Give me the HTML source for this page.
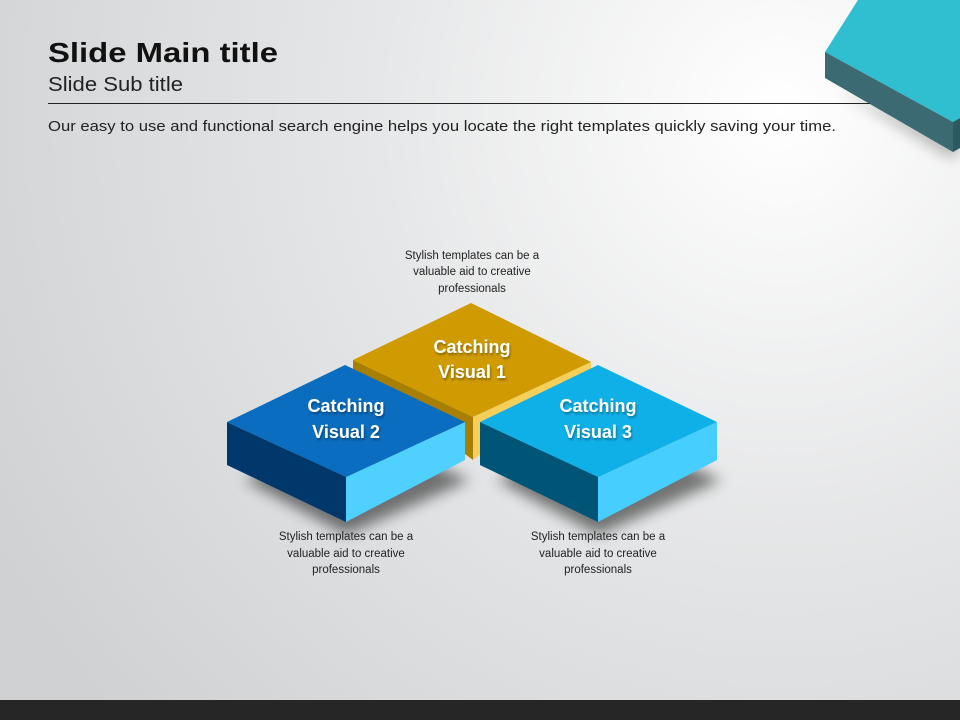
<!DOCTYPE html>
<html><head><meta charset="utf-8"><style>
html,body{margin:0;padding:0;width:960px;height:720px;overflow:hidden}
svg{display:block}
text{font-family:"Liberation Sans","DejaVu Sans",sans-serif}
</style></head><body>
<svg width="960" height="720" viewBox="0 0 960 720" xmlns="http://www.w3.org/2000/svg">
<defs>
<radialGradient id="bg" cx="780" cy="110" r="900" gradientUnits="userSpaceOnUse">
<stop offset="0" stop-color="#ffffff"/><stop offset="0.45" stop-color="#e6e7e8"/><stop offset="1" stop-color="#cfd1d3"/>
</radialGradient>
<filter id="blur" x="-30%" y="-30%" width="160%" height="160%"><feGaussianBlur stdDeviation="7"/></filter>
<filter id="ts"><feDropShadow dx="1" dy="2" stdDeviation="1" flood-color="#000" flood-opacity="0.35"/></filter>
</defs>
<rect width="960" height="720" fill="url(#bg)"/>
<rect x="0" y="700" width="960" height="20" fill="#262626"/>

<!-- corner box -->
<polygon points="835,88 950,158 960,152 960,140" fill="#000" opacity="0.25" filter="url(#blur)"/>
<polygon points="825,52 858,0 960,0 960,118 953,122" fill="#2fbfd1"/>
<polygon points="825,52 953,122 953,152 825,78" fill="#3b6a73"/>
<polygon points="953,122 960,118 960,148 953,152" fill="#2d5960"/>

<text x="48" y="62" font-size="28" font-weight="bold" fill="#111" textLength="230" lengthAdjust="spacingAndGlyphs">Slide Main title</text>
<text x="48" y="91" font-size="20" fill="#222" textLength="135" lengthAdjust="spacingAndGlyphs">Slide Sub title</text>
<line x1="48" y1="103.5" x2="870" y2="103.5" stroke="#222" stroke-width="1"/>
<text x="48" y="131" font-size="15" fill="#222" textLength="788" lengthAdjust="spacingAndGlyphs">Our easy to use and functional search engine helps you locate the right templates quickly saving your time.</text>

<!-- shadows -->
<polygon points="245,480 346,535 470,480 350,430" fill="#000" opacity="0.5" filter="url(#blur)"/>
<polygon points="497,480 598,535 722,480 602,430" fill="#000" opacity="0.5" filter="url(#blur)"/>

<!-- yellow box -->
<polygon points="353,360 473,417 473,460 353,370" fill="#a87f00"/>
<polygon points="473,417 591,362 591,372 473,460" fill="#f6cf5a"/>
<polygon points="471,303 591,362 473,417 353,360" fill="#cf9b00"/>

<!-- blue 2 -->
<polygon points="227,422 346,477 346,522 227,465" fill="#00386c"/>
<polygon points="346,477 465,422 465,460 346,522" fill="#4fd0ff"/>
<polygon points="345,365 465,422 346,477 227,422" fill="#0a6dbf"/>

<!-- blue 3 -->
<polygon points="480,422 598,477 598,522 480,465" fill="#005577"/>
<polygon points="598,477 717,422 717,460 598,522" fill="#45ceff"/>
<polygon points="598,365 717,422 598,477 480,422" fill="#0fb0e8"/>

<g font-size="18" font-weight="bold" fill="#fff" text-anchor="middle" filter="url(#ts)">
<text x="472" y="353">Catching</text><text x="472" y="378">Visual 1</text>
<text x="346" y="412">Catching</text><text x="346" y="438">Visual 2</text>
<text x="598" y="412">Catching</text><text x="598" y="438">Visual 3</text>
</g>

<g font-size="11.5" fill="#222" text-anchor="middle">
<text x="472" y="259">Stylish templates can be a</text><text x="472" y="275">valuable aid to creative</text><text x="472" y="292">professionals</text>
<text x="346" y="540">Stylish templates can be a</text><text x="346" y="557">valuable aid to creative</text><text x="346" y="573">professionals</text>
<text x="598" y="540">Stylish templates can be a</text><text x="598" y="557">valuable aid to creative</text><text x="598" y="573">professionals</text>
</g>
</svg>
</body></html>
